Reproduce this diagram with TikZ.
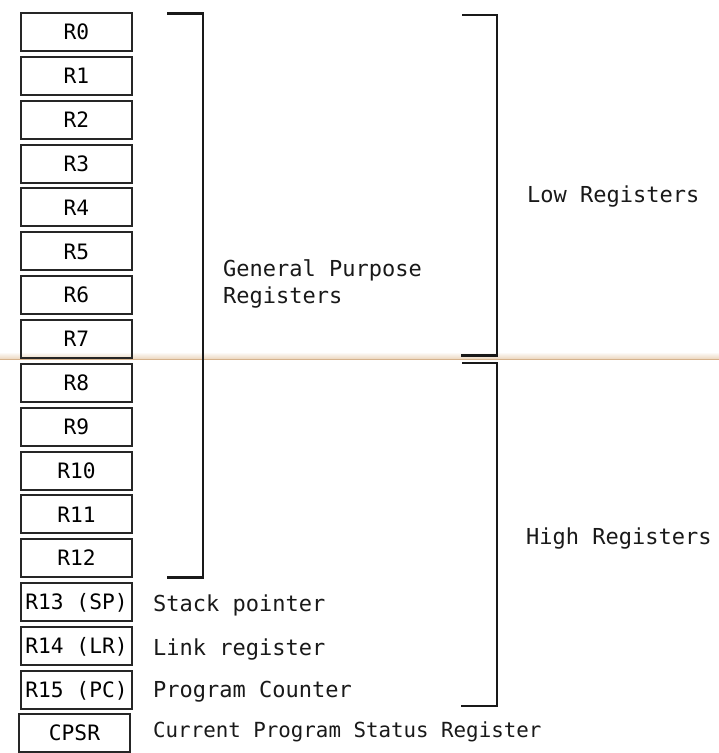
\documentclass[tikz,border=0pt]{standalone}
\usepackage{fontspec}
\newfontfamily\regmono{DejaVu Sans Mono}
\definecolor{scanline}{RGB}{214,178,140}
\definecolor{scanglow}{RGB}{235,214,190}
\begin{document}
\begin{tikzpicture}[x=1pt,y=-1pt,
  regbox/.style={draw=black!85,line width=2pt,minimum width=111pt,minimum height=38pt,inner sep=0pt,
    font=\regmono\fontsize{21.2}{24}\selectfont,text height=15.5pt,text depth=0pt},
  lbl/.style={anchor=base west,inner sep=0pt,font=\regmono\fontsize{22}{27}\selectfont,text=black!90},
  brk/.style={line width=2.2pt,black!90}]
\useasboundingbox (0,0) rectangle (719,753);
\fill[white] (0,0) rectangle (719,753);
% faint screen line
\fill[top color=white,bottom color=scanglow] (0,352) rectangle (719,359);
\draw[line width=1.2pt,scanline] (0,359.5) -- (719,359.5);
% registers
\foreach \i in {0,...,12}{
  \pgfmathsetmacro{\yy}{32+43.85*\i}
  \node[regbox] (r\i) at (76.5,\yy) {R\i};
}
\node[regbox] (r13) at (76.5,602.05) {R13 (SP)};
\node[regbox] (r14) at (76.5,645.9) {R14 (LR)};
\node[regbox] (r15) at (76.5,689.75) {R15 (PC)};
\node[regbox] (cpsr) at (74.5,733) {CPSR};
% descriptions
\node[lbl] (sp) at (153,611) {Stack pointer};
\node[lbl] (lr) at (153,655) {Link register};
\node[lbl] (pc) at (153,697) {Program Counter};
\node[lbl,font=\regmono\fontsize{20.8}{27}\selectfont] (cs) at (153,737) {Current Program Status Register};
% brackets
\draw[brk] (167,13.5) -- (203,13.5) -- (203,577.5) -- (167,577.5);
\draw[brk] (462,15) -- (497,15) -- (497,355.5) -- (461,355.5);
\draw[brk] (462,363) -- (497,363) -- (497,706) -- (461,706);
% bracket labels
\node[lbl] (gp1) at (223,276) {General Purpose};
\node[lbl] (gp2) at (223,303) {Registers};
\node[lbl] (low) at (527,202) {Low Registers};
\node[lbl] (high) at (526,544) {High Registers};
\end{tikzpicture}
\end{document}
